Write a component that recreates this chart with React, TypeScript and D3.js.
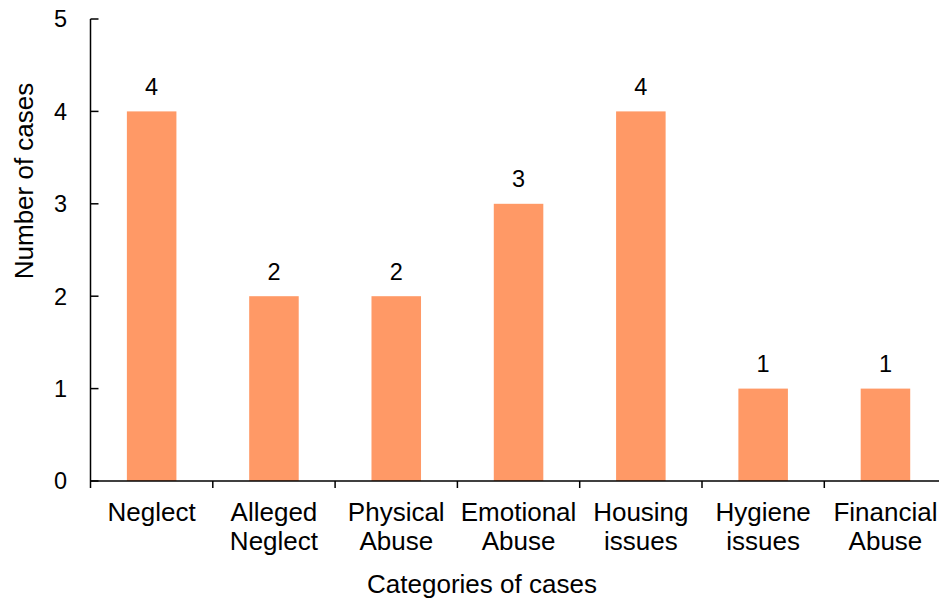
import React from "react";
import * as d3 from "d3";

// Case counts by category
const categories: string[][] = [
  ["Neglect"],
  ["Alleged", "Neglect"],
  ["Physical", "Abuse"],
  ["Emotional", "Abuse"],
  ["Housing", "issues"],
  ["Hygiene", "issues"],
  ["Financial", "Abuse"],
];
const caseCounts: number[] = [4, 2, 2, 3, 4, 1, 1];
const yTicks: number[] = [0, 1, 2, 3, 4, 5];

const yTitle = "Number of cases";
const xTitle = "Categories of cases";

const W = 939;
const H = 600;
const FONT = "'Liberation Sans', Arial, Helvetica, sans-serif";
const BAR = "#FF9966";

export default function App() {
  const x0 = 90.5;
  const step = 122.3;
  const x = d3
    .scaleBand<number>()
    .domain(d3.range(categories.length))
    .range([x0, x0 + step * categories.length])
    .padding(0);
  const y = d3.scaleLinear().domain([0, 5]).range([481, 19]);
  const barW = x.bandwidth() * 0.405;
  const boundaries = d3.range(categories.length + 1).map((i) => x0 + i * x.step());

  return (
    <svg
      width={W}
      height={H}
      style={{ position: "absolute", left: 0, top: 0, background: "#fff" }}
      fontFamily={FONT}
    >
      {/* bars */}
      {caseCounts.map((v, i) => {
        const cx = (x(i) as number) + x.bandwidth() / 2;
        return (
          <g key={i}>
            <rect x={cx - barW / 2} y={y(v)} width={barW} height={y(0) - y(v)} fill={BAR} />
            <text x={cx} y={y(v) - 16.5} textAnchor="middle" fontSize={23.5} fill="#000">
              {v}
            </text>
          </g>
        );
      })}

      {/* y axis */}
      <line x1={x0} x2={x0} y1={y(5)} y2={y(0)} stroke="#000" strokeWidth={1.5} />
      {yTicks.map((t) => (
        <g key={t}>
          <line x1={x0} x2={x0 + 8} y1={y(t)} y2={y(t)} stroke="#000" strokeWidth={1.5} />
          <text x={67} y={y(t)} dy="0.36em" textAnchor="end" fontSize={23.5} fill="#000">
            {t}
          </text>
        </g>
      ))}

      {/* x axis */}
      <line x1={x0} x2={boundaries[boundaries.length - 1]} y1={y(0)} y2={y(0)} stroke="#000" strokeWidth={1.5} />
      {boundaries.map((bx, i) => (
        <line key={i} x1={bx} x2={bx} y1={y(0)} y2={y(0) + 7} stroke="#000" strokeWidth={1.5} />
      ))}
      {categories.map((lines, i) => {
        const cx = (x(i) as number) + x.bandwidth() / 2;
        return (
          <text key={i} textAnchor="middle" fontSize={26} fill="#000">
            {lines.map((ln, j) => (
              <tspan key={j} x={cx} y={521 + j * 29}>
                {ln}
              </tspan>
            ))}
          </text>
        );
      })}

      {/* axis titles */}
      <text
        transform={`translate(33,181) rotate(-90)`}
        textAnchor="middle"
        fontSize={26}
        fill="#000"
      >
        {yTitle}
      </text>
      <text x={482} y={593} textAnchor="middle" fontSize={26} fill="#000">
        {xTitle}
      </text>
    </svg>
  );
}
